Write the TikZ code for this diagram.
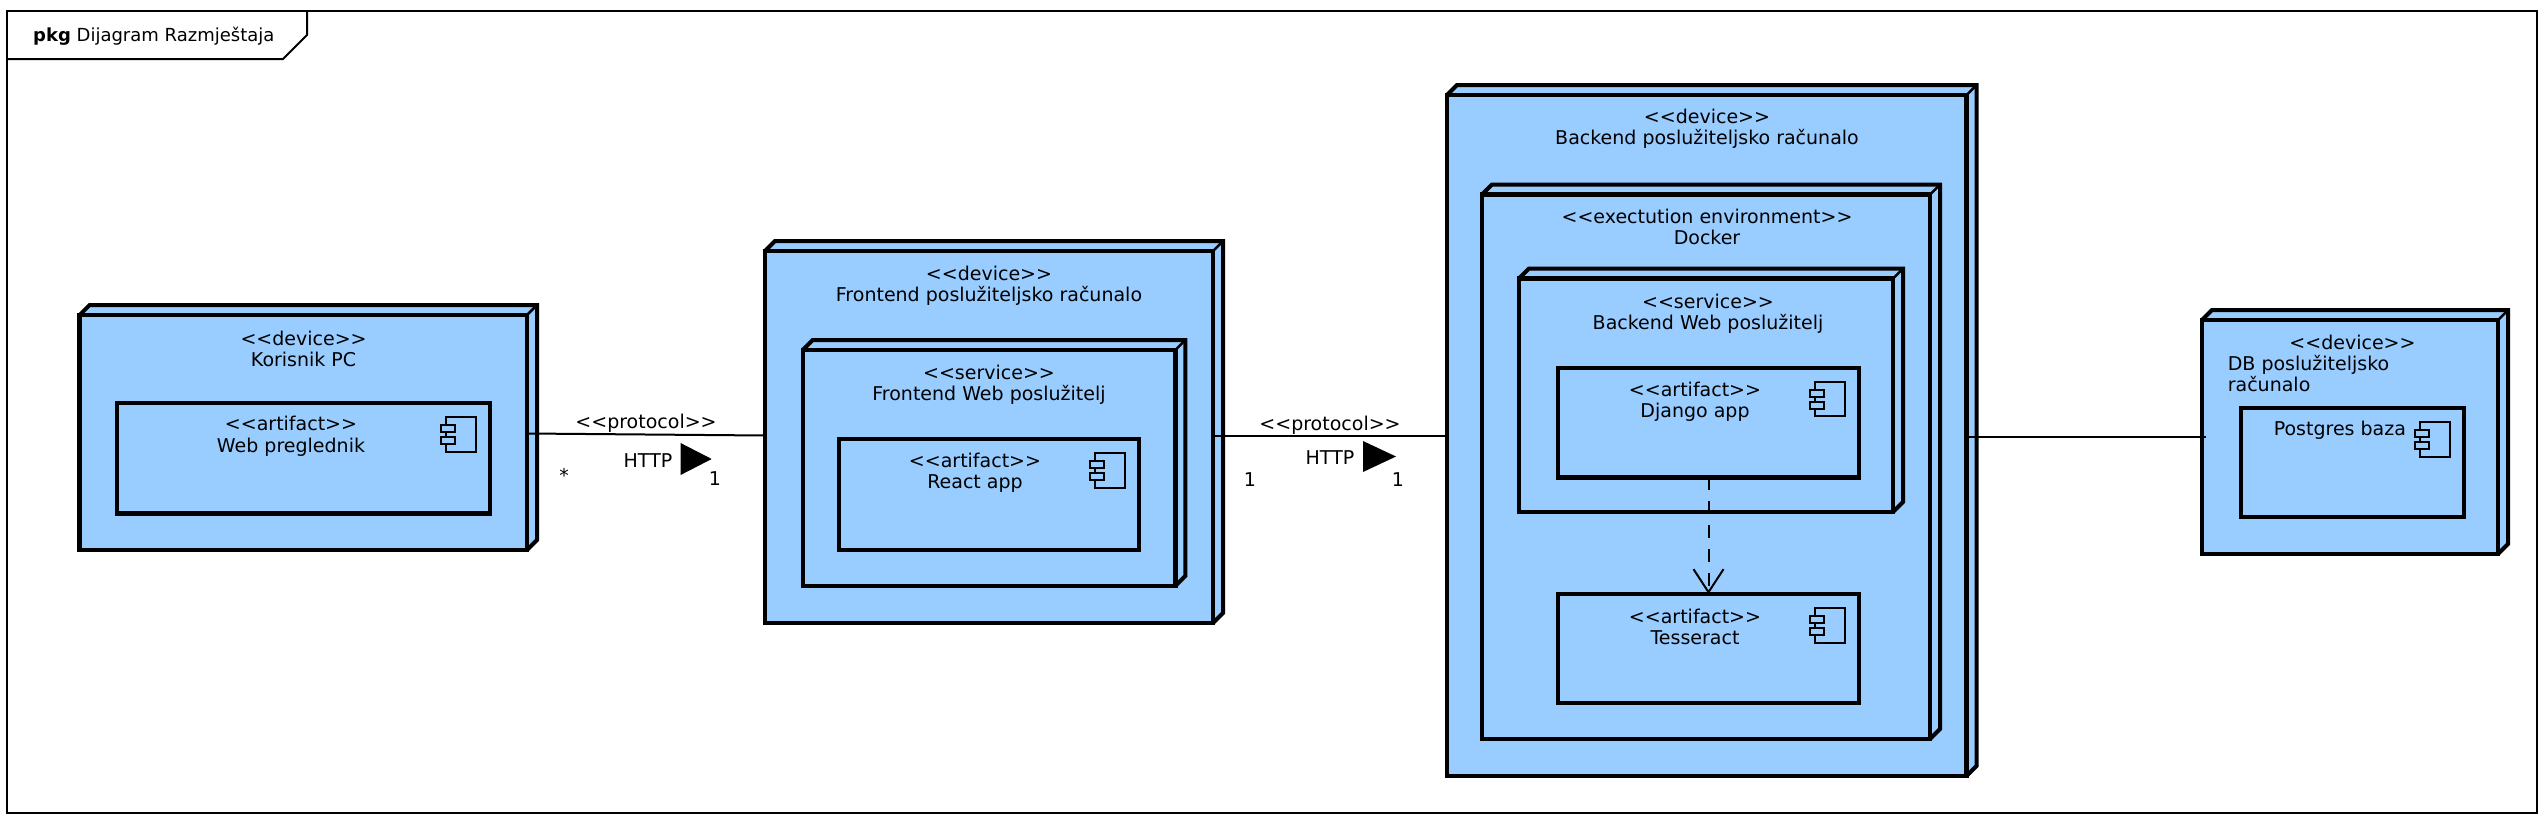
\documentclass[tikz,border=0pt]{standalone}
\usepackage{fontspec}
\setmainfont{DejaVu Sans}
\usepackage{xcolor}
\usepackage{tikz}
\usetikzlibrary{arrows.meta}
\definecolor{fillc}{HTML}{99CCFF}
\definecolor{linec}{HTML}{000000}
\newcommand{\stereo}[1]{<{}<#1>{}>}
\tikzset{
  sz/.style 2 args={minimum width=#1pt,minimum height=#2pt},
  unitbox/.style={rectangle,draw=linec,line width=4.5pt,fill=fillc,outer sep=0pt,inner sep=0pt},
  backface/.style={draw=linec,line width=4pt,line join=miter},
  edgeln/.style={draw=linec,line width=2.5pt},
  iconln/.style={draw=linec,line width=2pt,fill=fillc},
  conn/.style={draw=linec,line width=2pt},
  lab/.style={font=\fontsize{19}{21.5}\selectfont,align=center,inner sep=0pt,text=black}
}
\newcommand{\threed}[1]{
  \fill[fillc] (#1.north west) -- ++(10,-10) -- ([shift={(10,-10)}]#1.north east) -- (#1.north east) -- cycle;
  \fill[fillc] (#1.north east) -- ++(10,-10) -- ([shift={(10,-10)}]#1.south east) -- (#1.south east) -- cycle;
  \draw[backface] (#1.north west) -- ++(10,-10) -- ([shift={(10,-10)}]#1.north east) -- ([shift={(10,-10)}]#1.south east) -- (#1.south east);
  \draw[edgeln] (#1.north east) -- ++(10,-10);
  \draw[draw=linec,line width=4.5pt] (#1.north west) -- (#1.north east) -- (#1.south east);
}
\newcommand{\compicon}[1]{
  \draw[iconln] ([shift={(-44,14)}]#1.north east) rectangle ++(29.5,34.5);
  \draw[iconln] ([shift={(-49,22)}]#1.north east) rectangle ++(14,7);
  \draw[iconln] ([shift={(-49,34)}]#1.north east) rectangle ++(14,7);
}
\begin{document}
\begin{tikzpicture}[x=1pt,y=-1pt]
\useasboundingbox (0,0) rectangle (2548,822);
\node[rectangle,draw=linec,line width=2pt,outer sep=0pt,inner sep=0pt,sz={2530}{802}] (frame) at (1272,412) {};
\draw[conn] (7,59) -- (283,59) -- (307,35) -- (307,11);
\node[lab,anchor=west,font=\fontsize{18}{21.5}\selectfont] (title) at (33,36) {\textbf{pkg} Dijagram Razmještaja};

\node[unitbox,sz={447.4}{235}] (korisnik) at (303.3,432.5) {};
\threed{korisnik}
\node[lab] (korisniklab) at (303.6,349) {\stereo{device}\\Korisnik PC};
\node[unitbox,sz={373}{110.5}] (web) at (303.5,458.25) {};
\compicon{web}
\node[lab] (weblab) at (291,436.5) {\stereo{artifact}\\Web preglednik};

\node[unitbox,sz={448}{372}] (frontend) at (989,437) {};
\threed{frontend}
\node[lab] (frontendlab) at (989,286) {\stereo{device}\\Frontend poslužiteljsko računalo};
\node[unitbox,sz={372.5}{236}] (frontweb) at (989,468) {};
\threed{frontweb}
\node[lab] (frontweblab) at (989,385) {\stereo{service}\\Frontend Web poslužitelj};
\node[unitbox,sz={300}{111}] (react) at (989,494.5) {};
\compicon{react}
\node[lab] (reactlab) at (975,473) {\stereo{artifact}\\React app};

\node[unitbox,sz={519.5}{681}] (backend) at (1706.75,435.5) {};
\threed{backend}
\node[lab] (backendlab) at (1707,129) {\stereo{device}\\Backend poslužiteljsko računalo};
\node[unitbox,sz={448}{544.5}] (docker) at (1706,466.75) {};
\threed{docker}
\node[lab] (dockerlab) at (1707,227) {\stereo{exectution environment}\\Docker};
\node[unitbox,sz={374}{233.5}] (backweb) at (1706,395.25) {};
\threed{backweb}
\node[lab] (backweblab) at (1708,314) {\stereo{service}\\Backend Web poslužitelj};
\node[unitbox,sz={301}{109.5}] (django) at (1708.5,422.5) {};
\compicon{django}
\node[lab] (djangolab) at (1695,402) {\stereo{artifact}\\Django app};
\node[unitbox,sz={301}{109}] (tesseract) at (1708.5,648.5) {};
\compicon{tesseract}
\node[lab] (tesseractlab) at (1695,627) {\stereo{artifact}\\Tesseract};
\draw[conn,dash pattern=on 12.5pt off 11.5pt,-{Straight Barb[length=23pt,width=30pt,line width=2pt]}] (django.south) -- (tesseract.north);

\node[unitbox,sz={296}{234}] (db) at (2350,437) {};
\threed{db}
\node[lab] (dblab) at (2352.5,342) {\stereo{device}};
\node[lab,align=left,anchor=north west] (dbname) at (2227.6,355) {DB poslužiteljsko\\računalo};
\node[unitbox,sz={223}{109}] (postgres) at (2352.5,462.5) {};
\compicon{postgres}
\node[lab,anchor=west] (postgreslab) at (2273.6,430) {Postgres baza};

\draw[conn] ([yshift=-1pt]korisnik.east) -- ([yshift=1.5pt]frontend.west);
\draw[conn] ([yshift=1pt]frontend.east) -- ([xshift=2pt,yshift=-0.5pt]backend.west);
\draw[conn] ([yshift=-1pt]backend.east) -- ([xshift=4pt,yshift=0.5pt]db.west);

\node[lab] (proto1) at (646,423) {\stereo{protocol}};
\node[lab] (http1) at (648,461) {HTTP};
\fill[black] (680.6,443) -- (711.7,459) -- (680.6,475) -- cycle;
\node[lab] (mult1) at (564,475) {*};
\node[lab] (mult2) at (715,479) {1};
\node[lab] (proto2) at (1330,425) {\stereo{protocol}};
\node[lab] (http2) at (1330,458) {HTTP};
\fill[black] (1363,441) -- (1396,456.5) -- (1363,472) -- cycle;
\node[lab] (mult3) at (1250,480) {1};
\node[lab] (mult4) at (1398,480) {1};
\end{tikzpicture}
\end{document}
